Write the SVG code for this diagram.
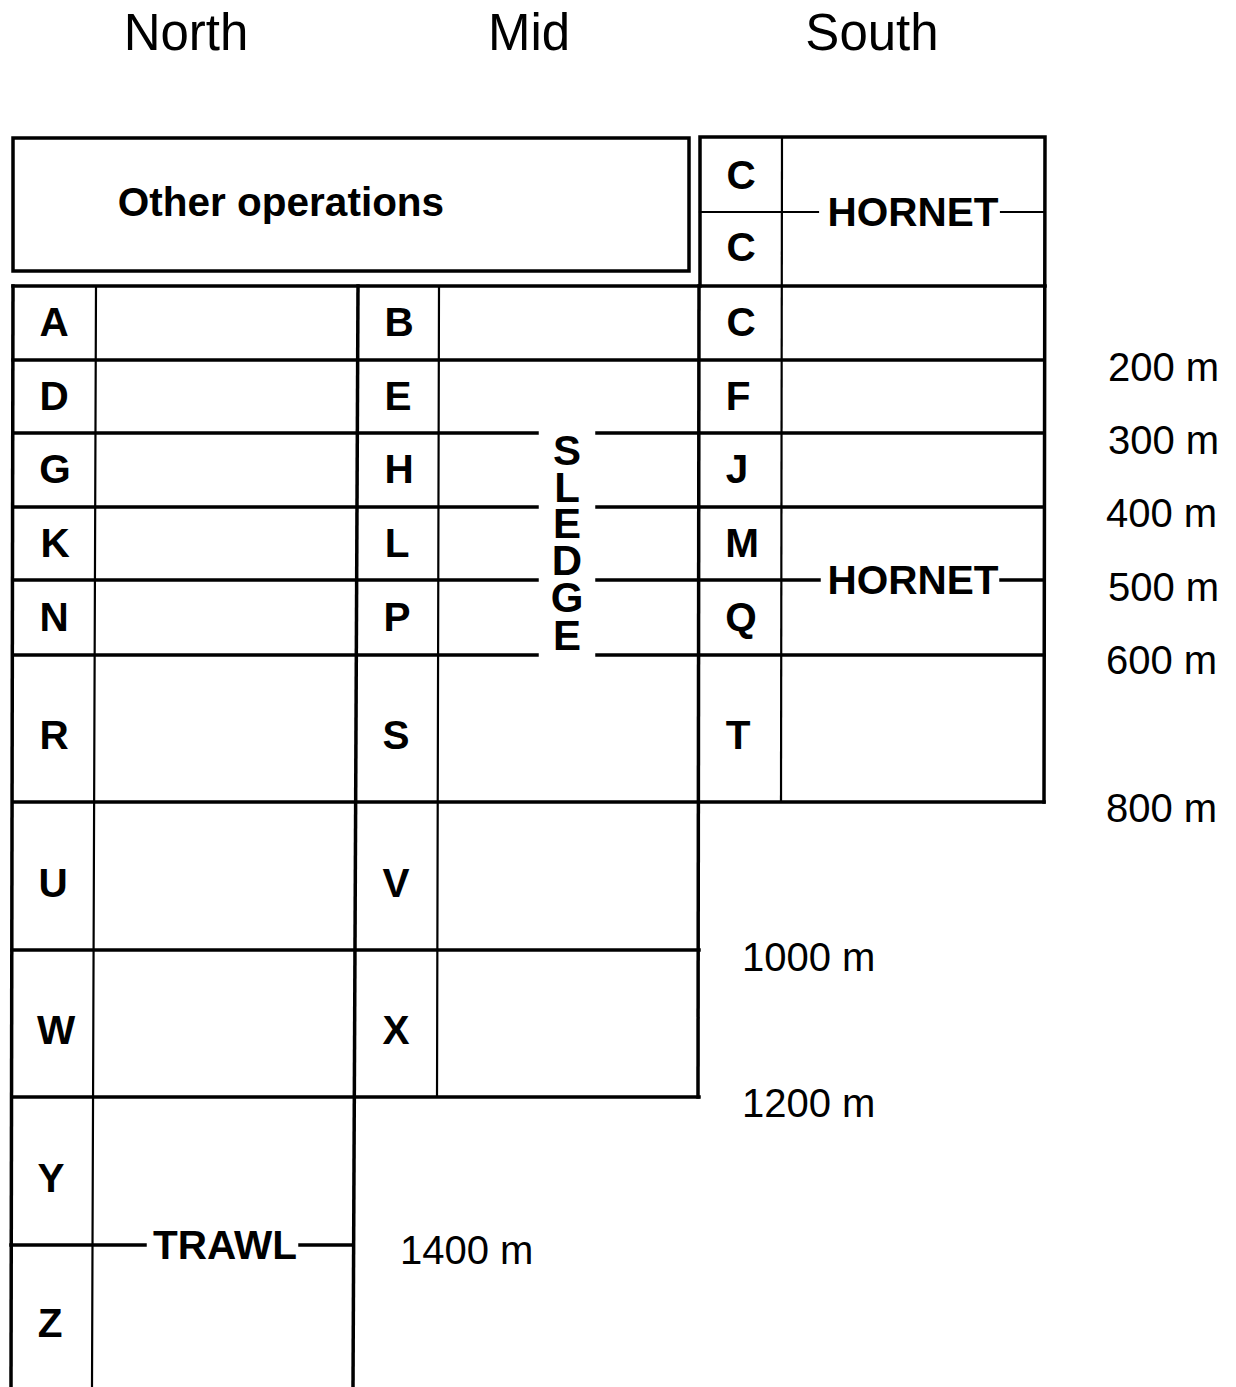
<svg xmlns="http://www.w3.org/2000/svg" width="1236" height="1387" viewBox="0 0 1236 1387">
<style>
.thick{stroke:#000;stroke-width:3.5;fill:none;stroke-linecap:square}
.thin{stroke:#000;stroke-width:2.2;fill:none;stroke-linecap:square}
.hdr{font-family:"Liberation Sans",Arial,sans-serif;font-size:51px;fill:#000;text-anchor:middle}
.lbl{font-family:"Liberation Sans",Arial,sans-serif;font-size:40.5px;font-weight:bold;fill:#000;text-anchor:middle}
.dep{font-family:"Liberation Sans",Arial,sans-serif;font-size:40px;fill:#000}
.vert{font-family:"Liberation Sans",Arial,sans-serif;font-size:42px;font-weight:bold;fill:#000;text-anchor:middle}
</style>
<rect width="1236" height="1387" fill="#fff"/>
<g id="headers">
<text class="hdr" x="186" y="50">North</text>
<text class="hdr" x="529" y="50">Mid</text>
<text class="hdr" x="872" y="50">South</text>
</g>
<g id="other-operations">
<rect class="thick" x="13" y="138" width="676" height="133"/>
<text class="lbl" x="281" y="216">Other operations</text>
</g>
<g id="grid-lines">
<path class="thick" d="M700 137 L1045 137 M700 137 L700 286 M1045 137 L1044 802"/>
<path class="thin" d="M782 137 L781 802"/>
<path class="thin" d="M700 212 L818 212 M1001 212 L1044 212"/>
<path class="thick" d="M13 286 L1045 286"/>
<path class="thick" d="M13 360 L1044 360"/>
<path class="thick" d="M13 433 L537 433 M597 433 L1044 433"/>
<path class="thick" d="M13 507 L537 507 M597 507 L1044 507"/>
<path class="thick" d="M13 580 L537 580 M597 580 L819 580 M1001 580 L1044 580"/>
<path class="thick" d="M13 655 L537 655 M597 655 L1044 655"/>
<path class="thick" d="M13 802 L1044 802"/>
<path class="thick" d="M12 950 L699 950"/>
<path class="thick" d="M12 1097 L699 1097"/>
<path class="thick" d="M11 1245 L145 1245 M300 1245 L353 1245"/>
<path class="thick" d="M13 286 L11 1387"/>
<path class="thin" d="M96 286 L92 1387"/>
<path class="thick" d="M358 286 L353 1387"/>
<path class="thin" d="M439 286 L437 1097"/>
<path class="thick" d="M699 286 L698 1097"/>
</g>
<g id="north-cells">
<text class="lbl" x="54" y="336">A</text>
<text class="lbl" x="54" y="410">D</text>
<text class="lbl" x="55" y="483">G</text>
<text class="lbl" x="55" y="557">K</text>
<text class="lbl" x="54" y="631">N</text>
<text class="lbl" x="54" y="749">R</text>
<text class="lbl" x="53" y="897">U</text>
<text class="lbl" x="56" y="1044">W</text>
<text class="lbl" x="51" y="1192">Y</text>
<text class="lbl" x="50" y="1337">Z</text>
</g>
<g id="mid-cells">
<text class="lbl" x="399" y="336">B</text>
<text class="lbl" x="398" y="410">E</text>
<text class="lbl" x="399" y="483">H</text>
<text class="lbl" x="397" y="557">L</text>
<text class="lbl" x="397" y="631">P</text>
<text class="lbl" x="396" y="749">S</text>
<text class="lbl" x="396" y="897">V</text>
<text class="lbl" x="396" y="1044">X</text>
</g>
<g id="south-cells">
<text class="lbl" x="741" y="189">C</text>
<text class="lbl" x="741" y="261">C</text>
<text class="lbl" x="741" y="336">C</text>
<text class="lbl" x="738" y="410">F</text>
<text class="lbl" x="737" y="483">J</text>
<text class="lbl" x="742" y="557">M</text>
<text class="lbl" x="741" y="631">Q</text>
<text class="lbl" x="738" y="749">T</text>
</g>
<g id="gear-labels">
<text class="lbl" x="913" y="226">HORNET</text>
<text class="lbl" x="913" y="594">HORNET</text>
<text class="lbl" x="225" y="1259">TRAWL</text>
<text id="sledge" class="vert" x="567 567 567 567 567 567" y="465 502 538 575 612 650">SLEDGE</text>
</g>
<g id="depths">
<text class="dep" x="1108" y="381">200 m</text>
<text class="dep" x="1108" y="454">300 m</text>
<text class="dep" x="1106" y="527">400 m</text>
<text class="dep" x="1108" y="601">500 m</text>
<text class="dep" x="1106" y="674">600 m</text>
<text class="dep" x="1106" y="822">800 m</text>
<text class="dep" x="742" y="971">1000 m</text>
<text class="dep" x="742" y="1117">1200 m</text>
<text class="dep" x="400" y="1264">1400 m</text>
</g>
</svg>
